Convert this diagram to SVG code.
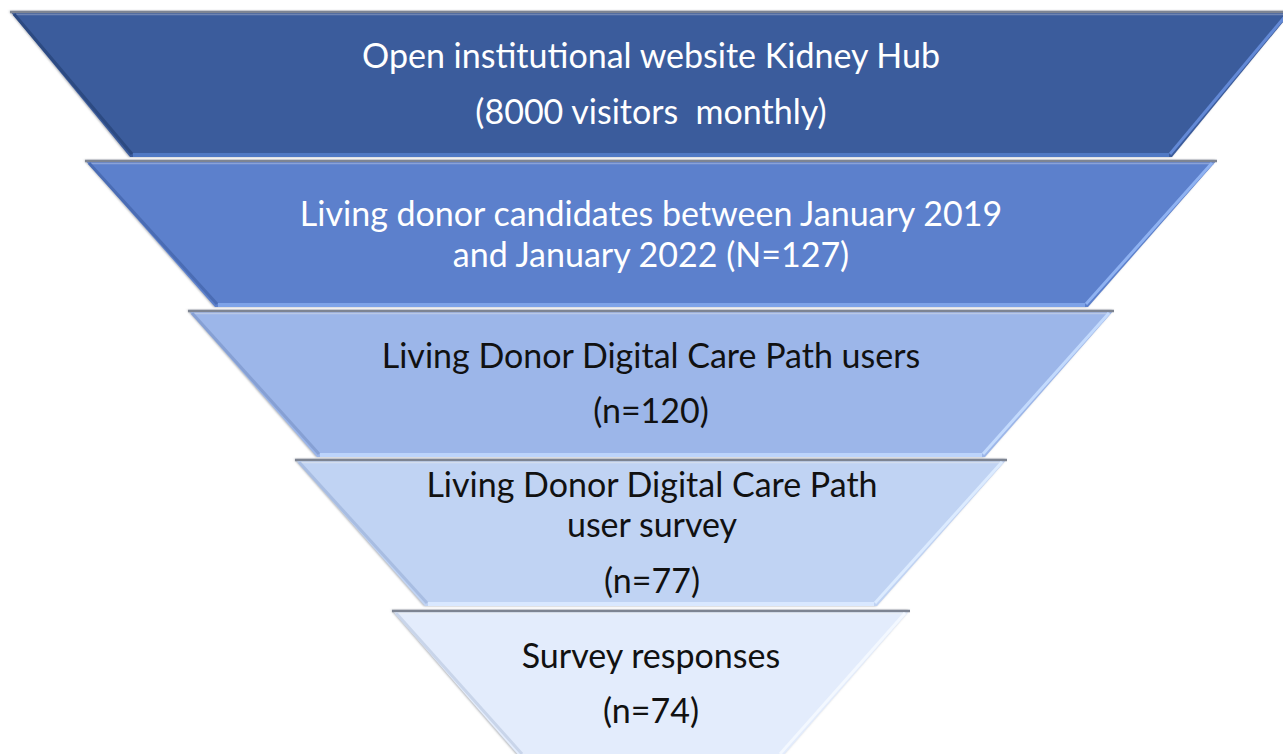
<svg xmlns="http://www.w3.org/2000/svg" width="1283" height="754" viewBox="0 0 1283 754">
  <style>
    .label { font-family: Lato, "Open Sans", "Liberation Sans", sans-serif; font-size: 34px; text-anchor: middle; }
    .light { fill: #ffffff; }
    .dark { fill: #111111; }
    .topedge { stroke: #7d8492; stroke-width: 2.5; fill: none; }
    .topshine { stroke-width: 1.5; fill: none; }
    .ledge { stroke-width: 3; fill: none; }
    .redge { stroke-width: 3; fill: none; }
    .bedge { stroke-width: 4; fill: none; }
  </style>
  <defs>
    <filter id="soft" x="-5%" y="-5%" width="110%" height="115%">
      <feDropShadow dx="-1" dy="0" stdDeviation="1.2" flood-color="#7a7f88" flood-opacity="0.7"/>
    </filter>
  </defs>

  <!-- Stage 1: website -->
  <g id="stage1">
    <polygon points="10,11 1292,11 1172,157 130,157" fill="#3a5c9c" filter="url(#soft)"/>
    <line class="topedge" x1="10" y1="12" x2="1292" y2="12"/>
    <line class="topshine" x1="14" y1="14.5" x2="1290" y2="14.5" stroke="#6f85b3"/>
    <line class="ledge" x1="14" y1="14" x2="132" y2="154" stroke="#2c4a82"/>
    <line class="redge" x1="1287" y1="14" x2="1170" y2="154" stroke="#6389d6"/>
    <line class="bedge" x1="133" y1="155" x2="1169" y2="155" stroke="#5079c4"/>
    <text class="label light" x="651" y="68">Open institutional website Kidney Hub</text>
    <text class="label light" x="651" y="124" xml:space="preserve">(8000 visitors  monthly)</text>
  </g>

  <!-- Stage 2: candidates -->
  <g id="stage2">
    <polygon points="85,160 1217,160 1088,307 215,307" fill="#5b80cc" filter="url(#soft)"/>
    <line class="topedge" x1="85" y1="161" x2="1217" y2="161"/>
    <line class="topshine" x1="89" y1="163.5" x2="1214" y2="163.5" stroke="#8aa2d8"/>
    <line class="ledge" x1="89" y1="163" x2="217" y2="304" stroke="#4a6cb4"/>
    <line class="redge" x1="1212" y1="163" x2="1086" y2="304" stroke="#8fb2f2"/>
    <line class="bedge" x1="218" y1="305" x2="1085" y2="305" stroke="#7ea3e8"/>
    <text class="label light" x="651" y="226">Living donor candidates between January 2019</text>
    <text class="label light" x="651" y="267">and January 2022 (N=127)</text>
  </g>

  <!-- Stage 3: care path users -->
  <g id="stage3">
    <polygon points="188,310 1114,310 985,457 317,457" fill="#9cb6e9" filter="url(#soft)"/>
    <line class="topedge" x1="188" y1="311" x2="1114" y2="311"/>
    <line class="topshine" x1="192" y1="313.5" x2="1110" y2="313.5" stroke="#b9c8e6"/>
    <line class="ledge" x1="192" y1="313" x2="319" y2="454" stroke="#86a0d4"/>
    <line class="redge" x1="1109" y1="313" x2="983" y2="454" stroke="#c3dafd"/>
    <line class="bedge" x1="320" y1="455" x2="982" y2="455" stroke="#bcd4fb"/>
    <text class="label dark" x="651" y="368">Living Donor Digital Care Path users</text>
    <text class="label dark" x="651" y="423">(n=120)</text>
  </g>

  <!-- Stage 4: user survey -->
  <g id="stage4">
    <polygon points="295,459 1007,459 877,606 425,606" fill="#c0d3f3" filter="url(#soft)"/>
    <line class="topedge" x1="295" y1="460" x2="1007" y2="460"/>
    <line class="topshine" x1="299" y1="462.5" x2="1003" y2="462.5" stroke="#d3ddee"/>
    <line class="ledge" x1="299" y1="462" x2="427" y2="603" stroke="#a8bde2"/>
    <line class="redge" x1="1002" y1="462" x2="875" y2="603" stroke="#dcebff"/>
    <line class="bedge" x1="428" y1="604" x2="874" y2="604" stroke="#d9e8ff"/>
    <text class="label dark" x="652" y="497">Living Donor Digital Care Path</text>
    <text class="label dark" x="652" y="537">user survey</text>
    <text class="label dark" x="652" y="593">(n=77)</text>
  </g>

  <!-- Stage 5: responses -->
  <g id="stage5">
    <polygon points="392,610 910,610 782,757 520,757" fill="#e3ecfc" filter="url(#soft)"/>
    <line class="topedge" x1="392" y1="611" x2="910" y2="611"/>
    <line class="topshine" x1="396" y1="613.5" x2="906" y2="613.5" stroke="#e8edf5"/>
    <line class="ledge" x1="396" y1="613" x2="522" y2="754" stroke="#c9d5ea"/>
    <line class="redge" x1="905" y1="613" x2="780" y2="754" stroke="#f3f8ff"/>
    <text class="label dark" x="651" y="668">Survey responses</text>
    <text class="label dark" x="651" y="723">(n=74)</text>
  </g>

  <!-- funnel has no connectors; stages touch directly -->
  <g id="connectors"/>
</svg>
